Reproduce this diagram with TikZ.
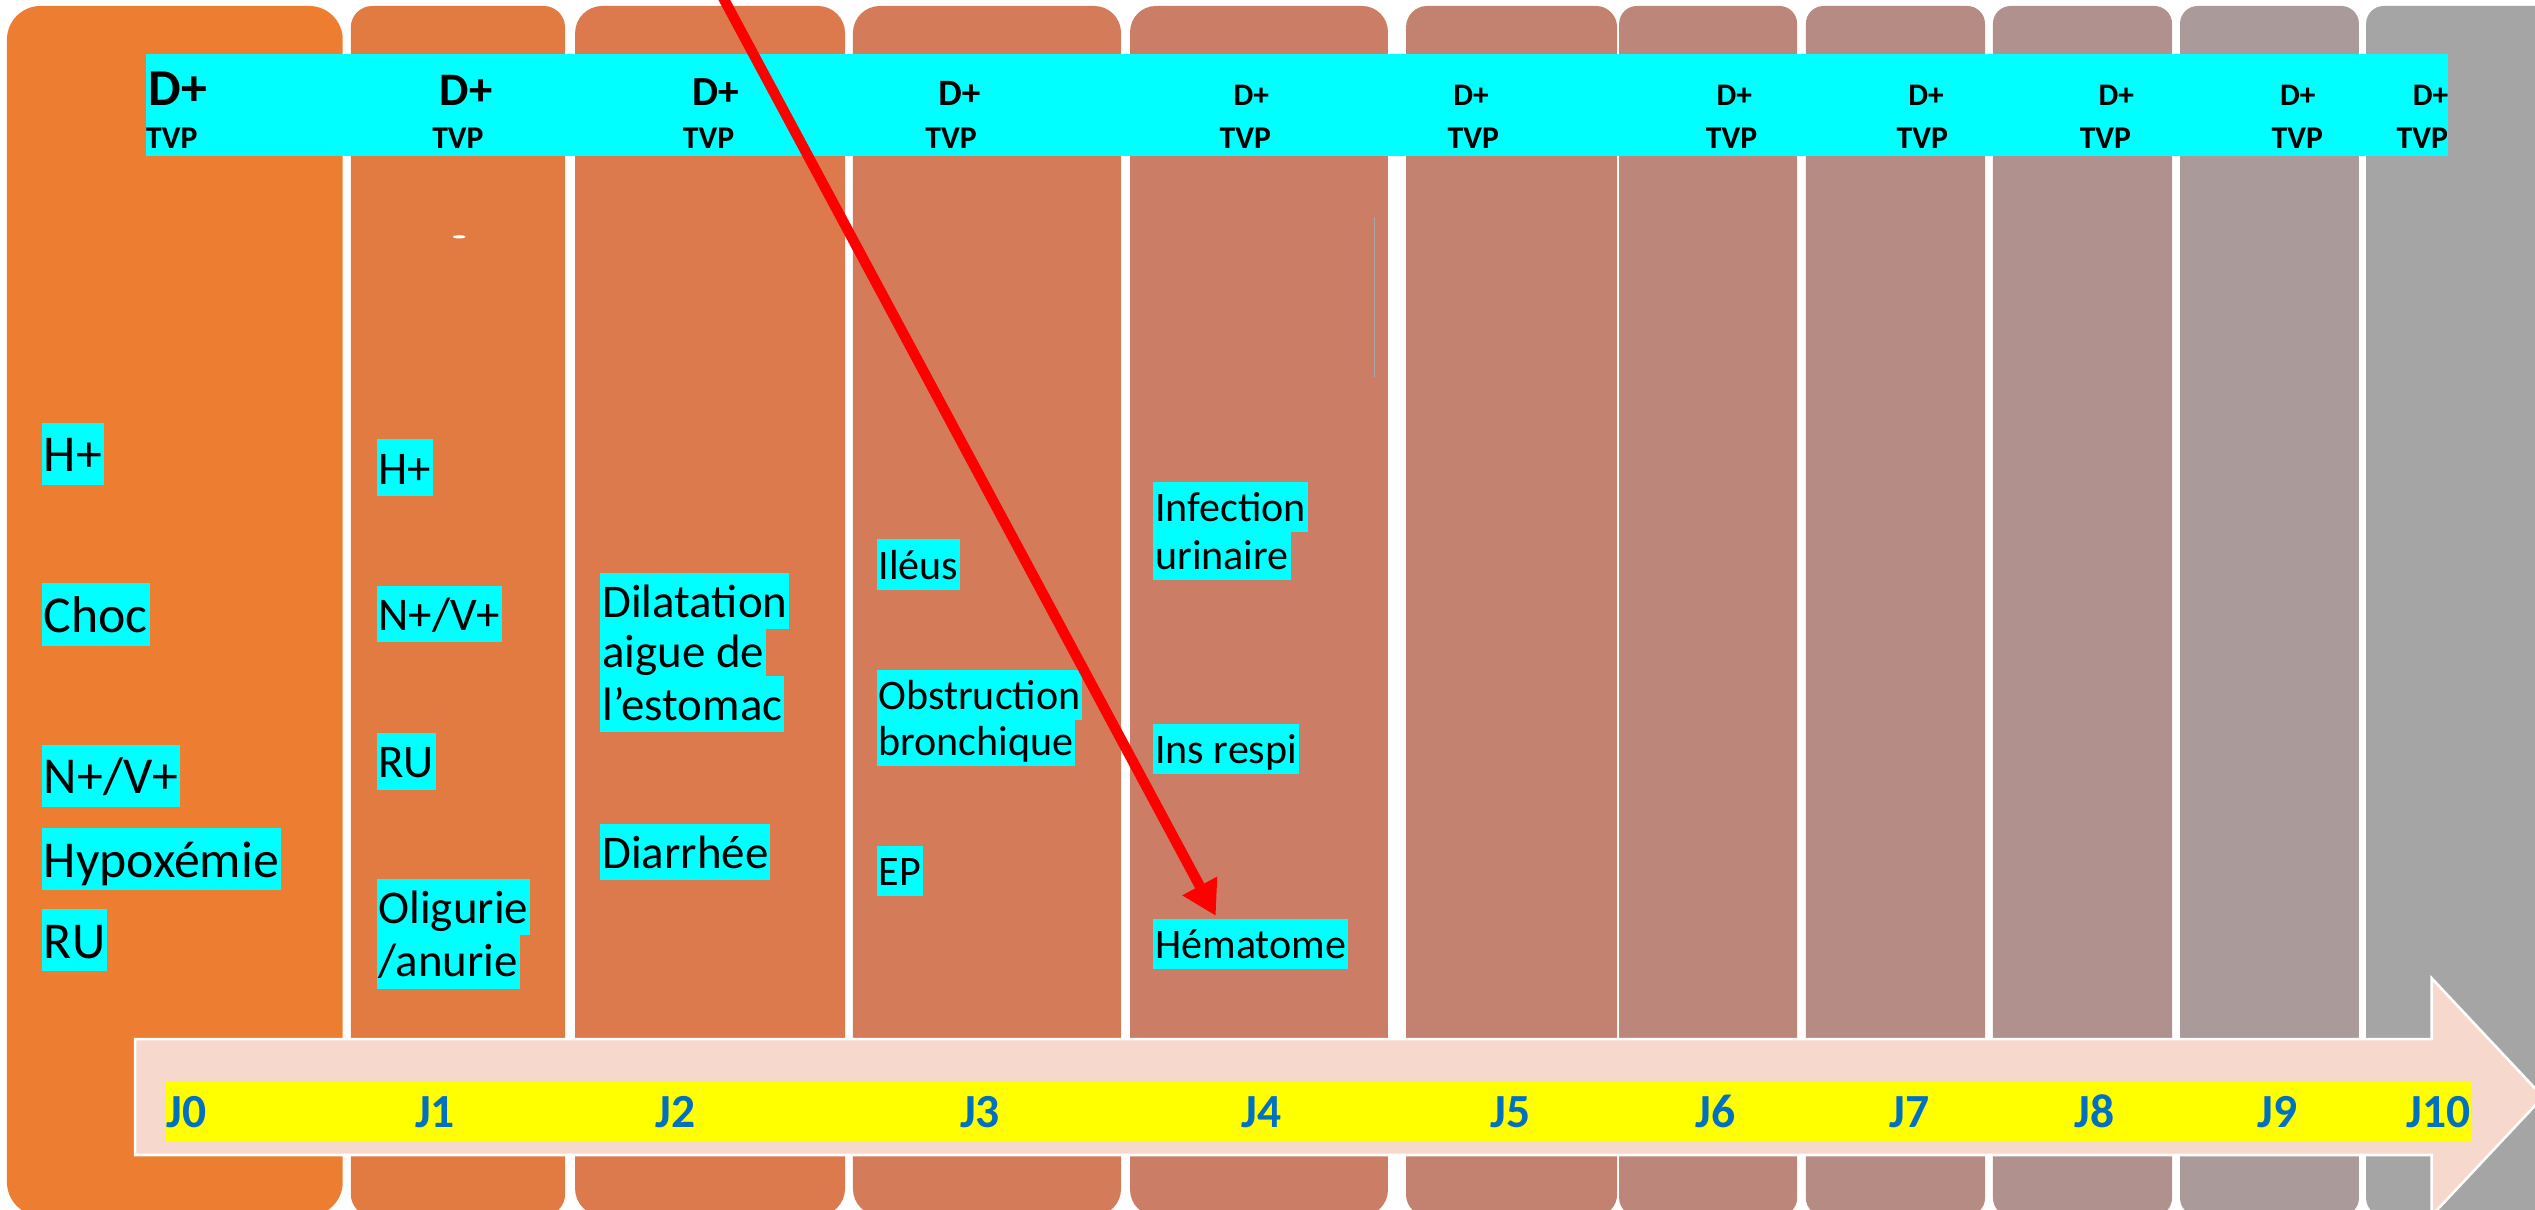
\documentclass[tikz,border=0pt]{standalone}
\usepackage{fontspec}
\setmainfont{Carlito}
\usetikzlibrary{arrows.meta}
\definecolor{k0}{HTML}{ED7D31}
\definecolor{k1}{HTML}{E27B41}
\definecolor{k2}{HTML}{DC7A4E}
\definecolor{k3}{HTML}{D47C5A}
\definecolor{k4}{HTML}{CB7D66}
\definecolor{k5}{HTML}{C38170}
\definecolor{k6}{HTML}{BC867A}
\definecolor{k7}{HTML}{B68B84}
\definecolor{k8}{HTML}{B0918E}
\definecolor{k9}{HTML}{AA9A99}
\definecolor{k10}{HTML}{A5A5A5}
\definecolor{hlcyan}{HTML}{00FFFF}
\definecolor{jblue}{HTML}{0070C0}
\definecolor{arrowpink}{HTML}{F7D8CD}
\definecolor{jyellow}{HTML}{FFFF00}
\definecolor{redline}{HTML}{FF0000}
\newcommand{\hstrut}{\rule[-0.25em]{0pt}{1.2em}}
\begin{document}
\begin{tikzpicture}[x=0.5pt,y=-0.5pt,
  hl/.style={anchor=base west, fill=hlcyan, inner xsep=0.6pt, inner ysep=0pt, text=black},
  fa/.style={font=\fontsize{16}{16}\selectfont},
  fb/.style={font=\fontsize{14.5}{14.5}\selectfont},
  fc/.style={font=\fontsize{13}{13}\selectfont},
  dtxt/.style={anchor=base west, inner sep=0pt, text=black},
  jtxt/.style={anchor=base west, inner sep=0pt, text=jblue, font=\fontsize{14.7}{14.7}\selectfont\bfseries},
  redarrow/.style={draw=redline, line width=3.2pt, -{Triangle[length=10.5pt,width=11.5pt]}}
]
\useasboundingbox (0,0) rectangle (1568,748);
\clip (0,0) rectangle (1568,748);
\fill[white] (0,0) rectangle (1568,748);
% day columns
\foreach \a/\b/\c/\r in {4.3/212/k0/10.4, 217/349.5/k1/6.6, 355.7/522.7/k2/8.4, 527.6/693.4/k3/8.3, 699/858.5/k4/8, 869.7/1000.2/k5/6.5, 1001.5/1111.6/k6/5.5, 1117/1227.8/k7/5.5, 1232.7/1343.5/k8/5.5, 1348.4/1459.1/k9/5.5, 1463.5/1600/k10/5.5}
  \fill[\c, rounded corners=\r pt] (\a,3.7) rectangle (\b,752);
% small artefacts
\draw[gray!70, line width=0.3pt] (850,134) -- (850,233);
\fill[white] (284,146.5) ellipse (4 and 1);
% top cyan band
\fill[hlcyan] (90.5,33.4) rectangle (1514,96.3);
\foreach \i/\x/\s in {0/91.6/16, 1/271.6/14.4, 2/428/12.8, 3/580/11.5, 4/762.7/9.7, 5/898.6/9.7, 6/1061.4/9.7, 7/1180/9.7, 8/1297.7/9.7, 9/1410/9.7, 10/1492/9.7}
  \node[dtxt, font=\fontsize{\s}{\s}\selectfont\bfseries] (d\i) at (\x,65) {D+};
\foreach \i/\x in {0/90, 1/267, 2/422, 3/572, 4/754, 5/895, 6/1054.8, 7/1172.7, 8/1286, 9/1404.7, 10/1482}
  \node[dtxt, font=\fontsize{9.8}{9.8}\selectfont\bfseries] (t\i) at (\x,91.8) {TVP};
% big timeline arrow
\filldraw[fill=arrowpink, draw=white, line width=0.8pt] (83.6,642.7) -- (1504,642.7) -- (1504,605) -- (1573,678.5) -- (1504,752) -- (1504,714.4) -- (83.6,714.4) -- cycle;
\fill[jyellow] (102.6,669) rectangle (1528.5,705.6);
\foreach \i/\x in {0/102.6, 1/256.4, 2/405, 3/593.4, 4/767.8, 5/921.6, 6/1048.5, 7/1168.6, 8/1282.6, 9/1395.8, 10/1488}
  \node[jtxt] (j\i) at (\x,697.3) {J\i};
% column 0
\node[hl, fa] (a1) at (25.6,291.8) {\hstrut H+};
\node[hl, fa] (a2) at (25.6,391.3) {\hstrut Choc};
\node[hl, fa] (a3) at (25.6,491) {\hstrut N+/V+};
\node[hl, fa] (a4) at (25.6,542.8) {\hstrut Hypoxémie};
\node[hl, fa] (a5) at (25.6,592.6) {\hstrut RU};
% column 1
\node[hl, fb] (b1) at (232.5,299.4) {\hstrut H+};
\node[hl, fb] (b2) at (232.5,390) {\hstrut N+/V+};
\node[hl, fb] (b3) at (232.5,481.2) {\hstrut RU};
\node[hl, fb] (b4) at (232.5,571.2) {\hstrut Oligurie};
\node[hl, fb] (b5) at (232.5,604.3) {\hstrut /anurie};
% column 2
\node[hl, fb] (c1) at (371,381.8) {\hstrut Dilatation\ };
\node[hl, fb] (c2) at (371,413) {\hstrut aigue de\ };
\node[hl, fb] (c3) at (371,445.7) {\hstrut l’estomac};
\node[hl, fb] (c4) at (371,537) {\hstrut Diarrhée};
% column 3
\node[hl, fc] (e1) at (541.8,358.2) {\hstrut Iléus};
\node[hl, fc] (e2) at (541.8,439.1) {\hstrut Obstruction\ };
\node[hl, fc] (e3) at (541.8,467) {\hstrut bronchique};
\node[hl, fc] (e4) at (541.8,548) {\hstrut EP};
% column 4
\node[hl, fc] (f1) at (713,322.6) {\hstrut Infection\ };
\node[hl, fc] (f2) at (713,352.2) {\hstrut urinaire};
\node[hl, fc] (f3) at (713,472.5) {\hstrut Ins respi};
\node[hl, fc] (hem) at (713,593) {\hstrut Hématome};
% red arrow
\coordinate (rstart) at (437.3,-20);
\coordinate (rtip) at (752,566.5);
\draw[redarrow] (rstart) -- (rtip);
\end{tikzpicture}
\end{document}
